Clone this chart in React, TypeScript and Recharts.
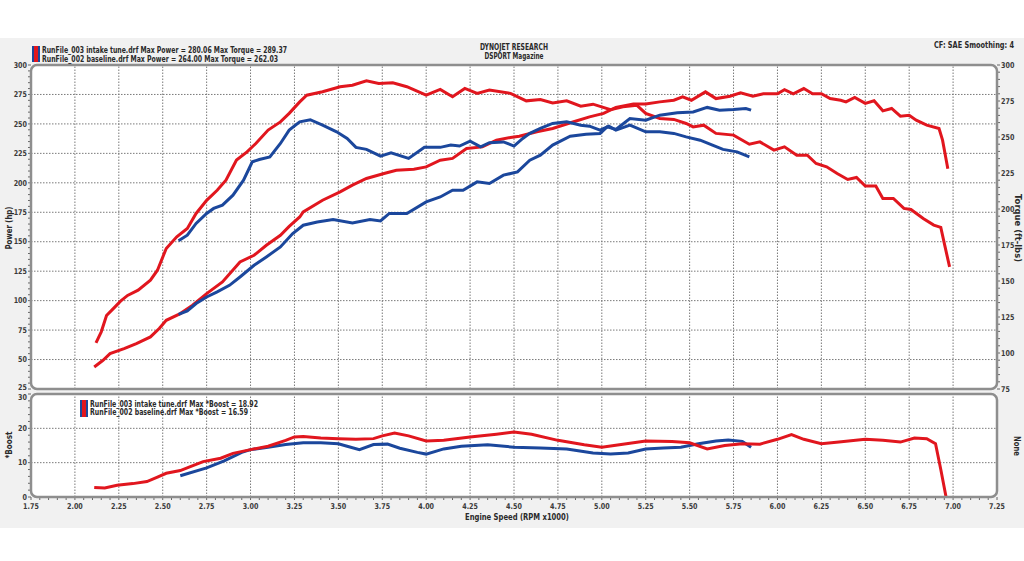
import React from 'react';
import { LineChart, Line, XAxis, YAxis, ReferenceLine } from 'recharts';

const RED = '#e1161e';
const BLUE = '#1b479c';
const FONT = "'DejaVu Sans', Verdana, sans-serif";

// axis ticks (labels)
const rpmTicks = [1.75, 2.0, 2.25, 2.5, 2.75, 3.0, 3.25, 3.5, 3.75, 4.0, 4.25, 4.5, 4.75, 5.0, 5.25, 5.5, 5.75, 6.0, 6.25, 6.5, 6.75, 7.0, 7.25];
const hpTicks = [25, 50, 75, 100, 125, 150, 175, 200, 225, 250, 275, 300];
const tqTicks = [75, 100, 125, 150, 175, 200, 225, 250, 275, 300];
const boostTicks = [0, 10, 20, 30];

// legend / header texts
const tuneName = 'RunFile_003 intake tune.drf';
const baseName = 'RunFile_002 baseline.drf';
const tuneMaxPower = '280.06';
const tuneMaxTorque = '289.37';
const baseMaxPower = '264.00';
const baseMaxTorque = '262.03';
const tuneMaxBoost = '18.92';
const baseMaxBoost = '16.59';

// [rpm x1000, hp]
const tunePower: [number, number][] = [
  [2.11, 43.7], [2.16, 49.4], [2.2, 55], [2.28, 59.3], [2.35, 63.6], [2.43, 69.2], [2.48, 76.3], [2.52, 83.3],
  [2.6, 89], [2.67, 96.1], [2.75, 106], [2.84, 115.9], [2.94, 132.8], [3.02, 138.5], [3.09, 147], [3.17, 155.5],
  [3.22, 163], [3.28, 171], [3.3, 175.3], [3.41, 185.2], [3.51, 192.3], [3.58, 198], [3.66, 203.7], [3.76, 207.9],
  [3.83, 210.7], [3.93, 211.6], [4.0, 213.5], [4.08, 219.2], [4.15, 220.7], [4.23, 229.1], [4.32, 230.5], [4.4, 236.2],
  [4.48, 238.5], [4.53, 239.5], [4.63, 243.3], [4.72, 246.1], [4.84, 251.8], [4.93, 256], [5.01, 258.9], [5.08, 264],
  [5.18, 266.8], [5.25, 267], [5.33, 268.7], [5.41, 270.1], [5.46, 272.9], [5.51, 270.1], [5.59, 277.2], [5.65, 271.5],
  [5.73, 273.5], [5.79, 276.4], [5.86, 273.5], [5.92, 275.6], [6.0, 275.6], [6.04, 279], [6.09, 275.6], [6.15, 280],
  [6.2, 275.6], [6.25, 275.6], [6.3, 271.5], [6.36, 270.1], [6.39, 268.7], [6.44, 272.5], [6.5, 267.4], [6.55, 269.6],
  [6.6, 261.1], [6.65, 263.1], [6.7, 256.6], [6.75, 257.4], [6.79, 253.2], [6.85, 248.9], [6.92, 246.1], [6.94, 236.2],
  [6.97, 212],
];

// [rpm x1000, ft-lbs]
const tuneTorque: [number, number][] = [
  [2.12, 107], [2.15, 114.7], [2.18, 126], [2.22, 131], [2.26, 136], [2.3, 140], [2.36, 143.6], [2.43, 150.6],
  [2.47, 157.5], [2.52, 172.6], [2.58, 180.7], [2.64, 186.5], [2.69, 196.9], [2.75, 206], [2.81, 213], [2.86, 220],
  [2.92, 234], [2.98, 239.7], [3.03, 245.5], [3.1, 254.8], [3.17, 260.5], [3.22, 266.4], [3.28, 274.4], [3.32, 279],
  [3.41, 281.4], [3.51, 284.9], [3.58, 286], [3.66, 289], [3.73, 287.2], [3.81, 287.6], [3.89, 284.9], [4.0, 279],
  [4.08, 283], [4.15, 277.9], [4.22, 283.7], [4.29, 280.3], [4.36, 282.6], [4.48, 280.3], [4.57, 275.1], [4.65, 276],
  [4.72, 273.7], [4.8, 275.1], [4.88, 271.4], [4.95, 272.8], [5.05, 269], [5.12, 271], [5.2, 272], [5.25, 266.4],
  [5.33, 262.9], [5.41, 262.2], [5.48, 259.4], [5.52, 257], [5.58, 258.2], [5.65, 252.5], [5.75, 251.3], [5.84, 245],
  [5.9, 246.6], [5.98, 240.9], [6.04, 243.2], [6.11, 237.4], [6.17, 237.4], [6.22, 231.6], [6.28, 229.3], [6.34, 224.7],
  [6.4, 220.5], [6.45, 221.9], [6.5, 215.9], [6.56, 215.9], [6.6, 207.3], [6.66, 207.3], [6.72, 200.4], [6.76, 199.7],
  [6.83, 193.4], [6.89, 188.8], [6.93, 187.2], [6.95, 176.1], [6.98, 159.8],
];

const basePower: [number, number][] = [
  [2.59, 88.4], [2.64, 91.2], [2.69, 97.5], [2.75, 103.1], [2.81, 107.4], [2.88, 113], [2.94, 120.1], [3.02, 130],
  [3.09, 137.1], [3.17, 145.6], [3.24, 157], [3.3, 164], [3.38, 166.8], [3.47, 168.8], [3.58, 166], [3.68, 168.8],
  [3.74, 167.7], [3.79, 174], [3.89, 174], [4.0, 183.8], [4.08, 188], [4.15, 193.7], [4.21, 193.7], [4.29, 200.8],
  [4.36, 199.4], [4.44, 206.5], [4.52, 209.3], [4.59, 219.2], [4.65, 223.5], [4.72, 232], [4.82, 239.6], [4.91, 241.3],
  [4.99, 241.9], [5.03, 247.5], [5.08, 245.3], [5.16, 254.6], [5.25, 253.2], [5.33, 257.4], [5.43, 259.4], [5.52, 260.2],
  [5.6, 264], [5.67, 261.7], [5.75, 262.3], [5.82, 263.1], [5.85, 261.7],
];

const baseTorque: [number, number][] = [
  [2.59, 177.9], [2.64, 181.8], [2.69, 190], [2.75, 196.9], [2.79, 200.4], [2.84, 202.7], [2.9, 209.6], [2.96, 220],
  [3.01, 232.8], [3.05, 234.4], [3.11, 236.2], [3.17, 245.5], [3.22, 254.8], [3.28, 260.5], [3.34, 262], [3.41, 258.2],
  [3.49, 253.6], [3.55, 249], [3.6, 242.8], [3.66, 241.4], [3.74, 236.7], [3.8, 239], [3.9, 235.1], [3.99, 242.8],
  [4.08, 242.8], [4.14, 244.4], [4.19, 243.7], [4.25, 247.1], [4.31, 243.2], [4.36, 246], [4.44, 246.6], [4.5, 243.7],
  [4.55, 249], [4.59, 252.5], [4.65, 256], [4.72, 259.4], [4.8, 260.5], [4.88, 258.2], [4.93, 257.5], [4.99, 254.8],
  [5.04, 257.5], [5.08, 254.8], [5.16, 258.2], [5.25, 253.6], [5.33, 253.6], [5.41, 252.5], [5.48, 250.1], [5.56, 247.8],
  [5.63, 244.4], [5.69, 241.4], [5.77, 239.7], [5.84, 236.2],
];

// [rpm x1000, boost psi]
const tuneBoost: [number, number][] = [
  [2.11, 2.8], [2.17, 2.6], [2.24, 3.4], [2.33, 3.9], [2.41, 4.5], [2.47, 5.8], [2.52, 6.9], [2.6, 7.7],
  [2.65, 8.7], [2.73, 10.3], [2.83, 11.3], [2.9, 12.7], [3.0, 13.8], [3.1, 14.8], [3.2, 16.5], [3.25, 17.5],
  [3.3, 17.6], [3.4, 17.2], [3.5, 17], [3.6, 16.8], [3.7, 17], [3.75, 17.8], [3.82, 18.6], [3.9, 17.8],
  [4.0, 16.3], [4.1, 16.5], [4.25, 17.5], [4.4, 18.3], [4.5, 18.9], [4.6, 18.3], [4.75, 16.5], [4.9, 15.2],
  [5.0, 14.5], [5.1, 15.2], [5.25, 16.3], [5.4, 16.2], [5.5, 15.8], [5.6, 14], [5.7, 15], [5.8, 15.5],
  [5.9, 15.4], [6.0, 16.8], [6.08, 18.2], [6.15, 16.8], [6.25, 15.5], [6.35, 16], [6.5, 16.8], [6.6, 16.5],
  [6.7, 16], [6.78, 17.2], [6.85, 17], [6.9, 15.5], [6.93, 8], [6.96, 0],
];

const baseBoost: [number, number][] = [
  [2.6, 6.2], [2.75, 8.5], [2.85, 10.5], [2.95, 13], [3.0, 13.8], [3.1, 14.5], [3.2, 15.3], [3.3, 15.8],
  [3.4, 15.8], [3.5, 15.5], [3.55, 14.8], [3.62, 13.8], [3.7, 15.3], [3.78, 15.4], [3.85, 14.2], [3.95, 13],
  [4.0, 12.5], [4.1, 14], [4.2, 14.8], [4.35, 15.2], [4.5, 14.5], [4.65, 14.3], [4.8, 14], [4.95, 12.8],
  [5.05, 12.5], [5.15, 12.8], [5.25, 14], [5.35, 14.3], [5.45, 14.5], [5.55, 15.5], [5.65, 16.3], [5.72, 16.6],
  [5.8, 16.2], [5.85, 14.5],
];

const toData = (pts: [number, number][]) => pts.map(([rpm, v]) => ({ rpm, v }));

const range = (a: number, b: number, step: number) => {
  const out: number[] = [];
  for (let i = 0; a + i * step <= b + 1e-9; i++) out.push(Math.round((a + i * step) * 1000) / 1000);
  return out;
};

const isIn = (arr: number[], v: number) => arr.some((t) => Math.abs(t - v) < 1e-6);

const makeYTick = (labels: number[], anchor: 'start' | 'end', dyFix: (v: number) => number = () => 0) => (props: any) => {
  const { x, y, payload } = props;
  if (!isIn(labels, payload.value)) return <g />;
  return (
    <text
      transform={`translate(${x},${y + dyFix(payload.value)}) scale(0.8,1)`}
      textAnchor={anchor}
      dominantBaseline="central"
      fontSize={8}
      fontWeight="bold"
      fill="#3a3a3a"
      fontFamily={FONT}
    >
      {payload.value}
    </text>
  );
};

const XTick = (props: any) => {
  const { x, y, payload } = props;
  if (!isIn(rpmTicks, payload.value)) return <g />;
  return (
    <text
      transform={`translate(${x},${y}) scale(0.8,1)`}
      textAnchor="middle"
      dy="0.71em"
      fontSize={8}
      fontWeight="bold"
      fill="#3a3a3a"
      fontFamily={FONT}
    >
      {payload.value.toFixed(2)}
    </text>
  );
};

const gridProps = { stroke: '#7a7a7a', strokeDasharray: '1.5 1.5', strokeWidth: 1 };

const Label = ({ x, y, text, len, size = 8, anchor = 'start', rotate = 0 }: any) => (
  <text
    x={0}
    y={0}
    transform={`translate(${x},${y}) rotate(${rotate})`}
    textAnchor={anchor}
    dominantBaseline="central"
    fontSize={size}
    fontWeight="bold"
    fill="#2a2a2a"
    fontFamily={FONT}
    textLength={len}
    lengthAdjust="spacingAndGlyphs"
  >
    {text}
  </text>
);

const Swatch = ({ x, y, h }: any) => (
  <g>
    <rect x={x} y={y} width={8} height={h} fill={RED} />
    <rect x={x} y={y} width={2} height={h} fill={BLUE} />
    <rect x={x + 6} y={y} width={2} height={h} fill={BLUE} />
  </g>
);

export default function App() {
  const W = 1024;
  const H = 561;
  const rpmMinor = range(1.75, 7.25, 0.05);
  const rpmGrid = rpmTicks.slice(1, -1);
  const hpMinor = range(25, 300, 5);
  const tqMinor = range(75, 300, 5);
  const boostMinor = range(0, 30, 2);
  const hpGrid = hpTicks.slice(1, -1);
  const boostGrid = boostTicks.slice(1, -1);

  return (
    <div style={{ position: 'absolute', left: 0, top: 0, width: W, height: H, background: '#ffffff', overflow: 'hidden' }}>
      <div style={{ position: 'absolute', left: 0, top: 38, width: W, height: 490, background: '#f1f1f1' }} />
      <div style={{ position: 'absolute', left: 31, top: 65, width: 966, height: 324, background: '#ffffff' }} />
      <div style={{ position: 'absolute', left: 31, top: 394, width: 966, height: 103, background: '#ffffff' }} />

      <div style={{ position: 'absolute', left: 0, top: 0 }}>
        <LineChart width={W} height={H} margin={{ top: 65, right: 0, bottom: 172, left: 0 }}>
          <XAxis type="number" dataKey="rpm" xAxisId="x" domain={[1.75, 7.25]} ticks={rpmTicks} hide allowDataOverflow />
          <YAxis
            yAxisId="hp"
            orientation="left"
            width={31}
            domain={[25, 300]}
            ticks={hpMinor}
            interval={0}
            axisLine={false}
            tickSize={3}
            tickMargin={1}
            tickLine={{ stroke: '#666' }}
            tick={makeYTick(hpTicks, 'end', (v) => (v === 25 ? -2 : 0))}
            allowDataOverflow
          />
          <YAxis
            yAxisId="tq"
            orientation="right"
            width={27}
            domain={[75, 300]}
            ticks={tqMinor}
            interval={0}
            axisLine={false}
            tickSize={3}
            tickMargin={1}
            tickLine={{ stroke: '#666' }}
            tick={makeYTick(tqTicks, 'start')}
            allowDataOverflow
          />
          {rpmGrid.map((v) => (
            <ReferenceLine key={'vx' + v} x={v} xAxisId="x" yAxisId="hp" {...gridProps} />
          ))}
          {hpGrid.map((v) => (
            <ReferenceLine key={'hy' + v} y={v} xAxisId="x" yAxisId="hp" {...gridProps} />
          ))}
          <Line data={toData(tuneTorque)} dataKey="v" xAxisId="x" yAxisId="tq" type="linear" stroke={RED} strokeWidth={3} dot={false} isAnimationActive={false} />
          <Line data={toData(tunePower)} dataKey="v" xAxisId="x" yAxisId="hp" type="linear" stroke={RED} strokeWidth={3} dot={false} isAnimationActive={false} />
          <Line data={toData(baseTorque)} dataKey="v" xAxisId="x" yAxisId="tq" type="linear" stroke={BLUE} strokeWidth={3} dot={false} isAnimationActive={false} />
          <Line data={toData(basePower)} dataKey="v" xAxisId="x" yAxisId="hp" type="linear" stroke={BLUE} strokeWidth={3} dot={false} isAnimationActive={false} />
        </LineChart>
      </div>

      <div style={{ position: 'absolute', left: 0, top: 0 }}>
        <LineChart width={W} height={H} margin={{ top: 394, right: 27, bottom: 44, left: 0 }}>
          <XAxis
            type="number"
            dataKey="rpm"
            xAxisId="x"
            domain={[1.75, 7.25]}
            ticks={rpmMinor}
            interval={0}
            height={20}
            axisLine={false}
            tickSize={3}
            tickMargin={3}
            tickLine={{ stroke: '#666' }}
            tick={<XTick />}
            allowDataOverflow
          />
          <YAxis
            yAxisId="b"
            orientation="left"
            width={31}
            domain={[0, 30]}
            ticks={boostMinor}
            interval={0}
            axisLine={false}
            tickSize={3}
            tickMargin={1}
            tickLine={{ stroke: '#666' }}
            tick={makeYTick(boostTicks, 'end', (v) => (v === 30 ? 3 : 0))}
            allowDataOverflow
          />
          {rpmGrid.map((v) => (
            <ReferenceLine key={'bvx' + v} x={v} xAxisId="x" yAxisId="b" {...gridProps} />
          ))}
          {boostGrid.map((v) => (
            <ReferenceLine key={'bhy' + v} y={v} xAxisId="x" yAxisId="b" {...gridProps} />
          ))}
          <Line data={toData(baseBoost)} dataKey="v" xAxisId="x" yAxisId="b" type="linear" stroke={BLUE} strokeWidth={3} dot={false} isAnimationActive={false} />
          <Line data={toData(tuneBoost)} dataKey="v" xAxisId="x" yAxisId="b" type="linear" stroke={RED} strokeWidth={3} dot={false} isAnimationActive={false} />
        </LineChart>
      </div>

      <svg width={W} height={H} style={{ position: 'absolute', left: 0, top: 0, pointerEvents: 'none' }}>
        {/* panel borders */}
        <rect x={31} y={65} width={966} height={324} rx={6} fill="none" stroke="#8e8e8e" strokeWidth={2.5} />
        <rect x={31} y={394} width={966} height={103} rx={6} fill="none" stroke="#8e8e8e" strokeWidth={2.5} />

        {/* header */}
        <Swatch x={32} y={46} h={16} />
        <Label x={42} y={50.5} text={`${tuneName} Max Power = ${tuneMaxPower} Max Torque = ${tuneMaxTorque}`} len={245} size={8} />
        <Label x={42} y={59} text={`${baseName} Max Power = ${baseMaxPower} Max Torque = ${baseMaxTorque}`} len={236} size={8} />
        <Label x={514} y={47} text="DYNOJET RESEARCH" len={68} size={8} anchor="middle" />
        <Label x={514} y={56} text="DSPORT Magazine" len={59} size={8} anchor="middle" />
        <Label x={934} y={45} text="CF: SAE  Smoothing: 4" len={80} size={8} />

        {/* axis titles */}
        <Label x={9} y={228} text="Power (hp)" len={43} size={8} anchor="middle" rotate={-90} />
        <Label x={1017} y={228} text="Torque (ft-lbs)" len={68} size={8} anchor="middle" rotate={90} />
        <Label x={9} y={445} text="*Boost" len={27} size={8} anchor="middle" rotate={-90} />
        <Label x={1016} y={446} text="None" len={20} size={8} anchor="middle" rotate={90} />
        <Label x={517} y={517} text="Engine Speed (RPM x1000)" len={104} size={8} anchor="middle" />

        {/* boost legend */}
        <Swatch x={80} y={400} h={17} />
        <Label x={90} y={404} text={`${tuneName} Max *Boost = ${tuneMaxBoost}`} len={168} size={8} />
        <Label x={90} y={412.5} text={`${baseName} Max *Boost = ${baseMaxBoost}`} len={158} size={8} />
      </svg>
    </div>
  );
}
